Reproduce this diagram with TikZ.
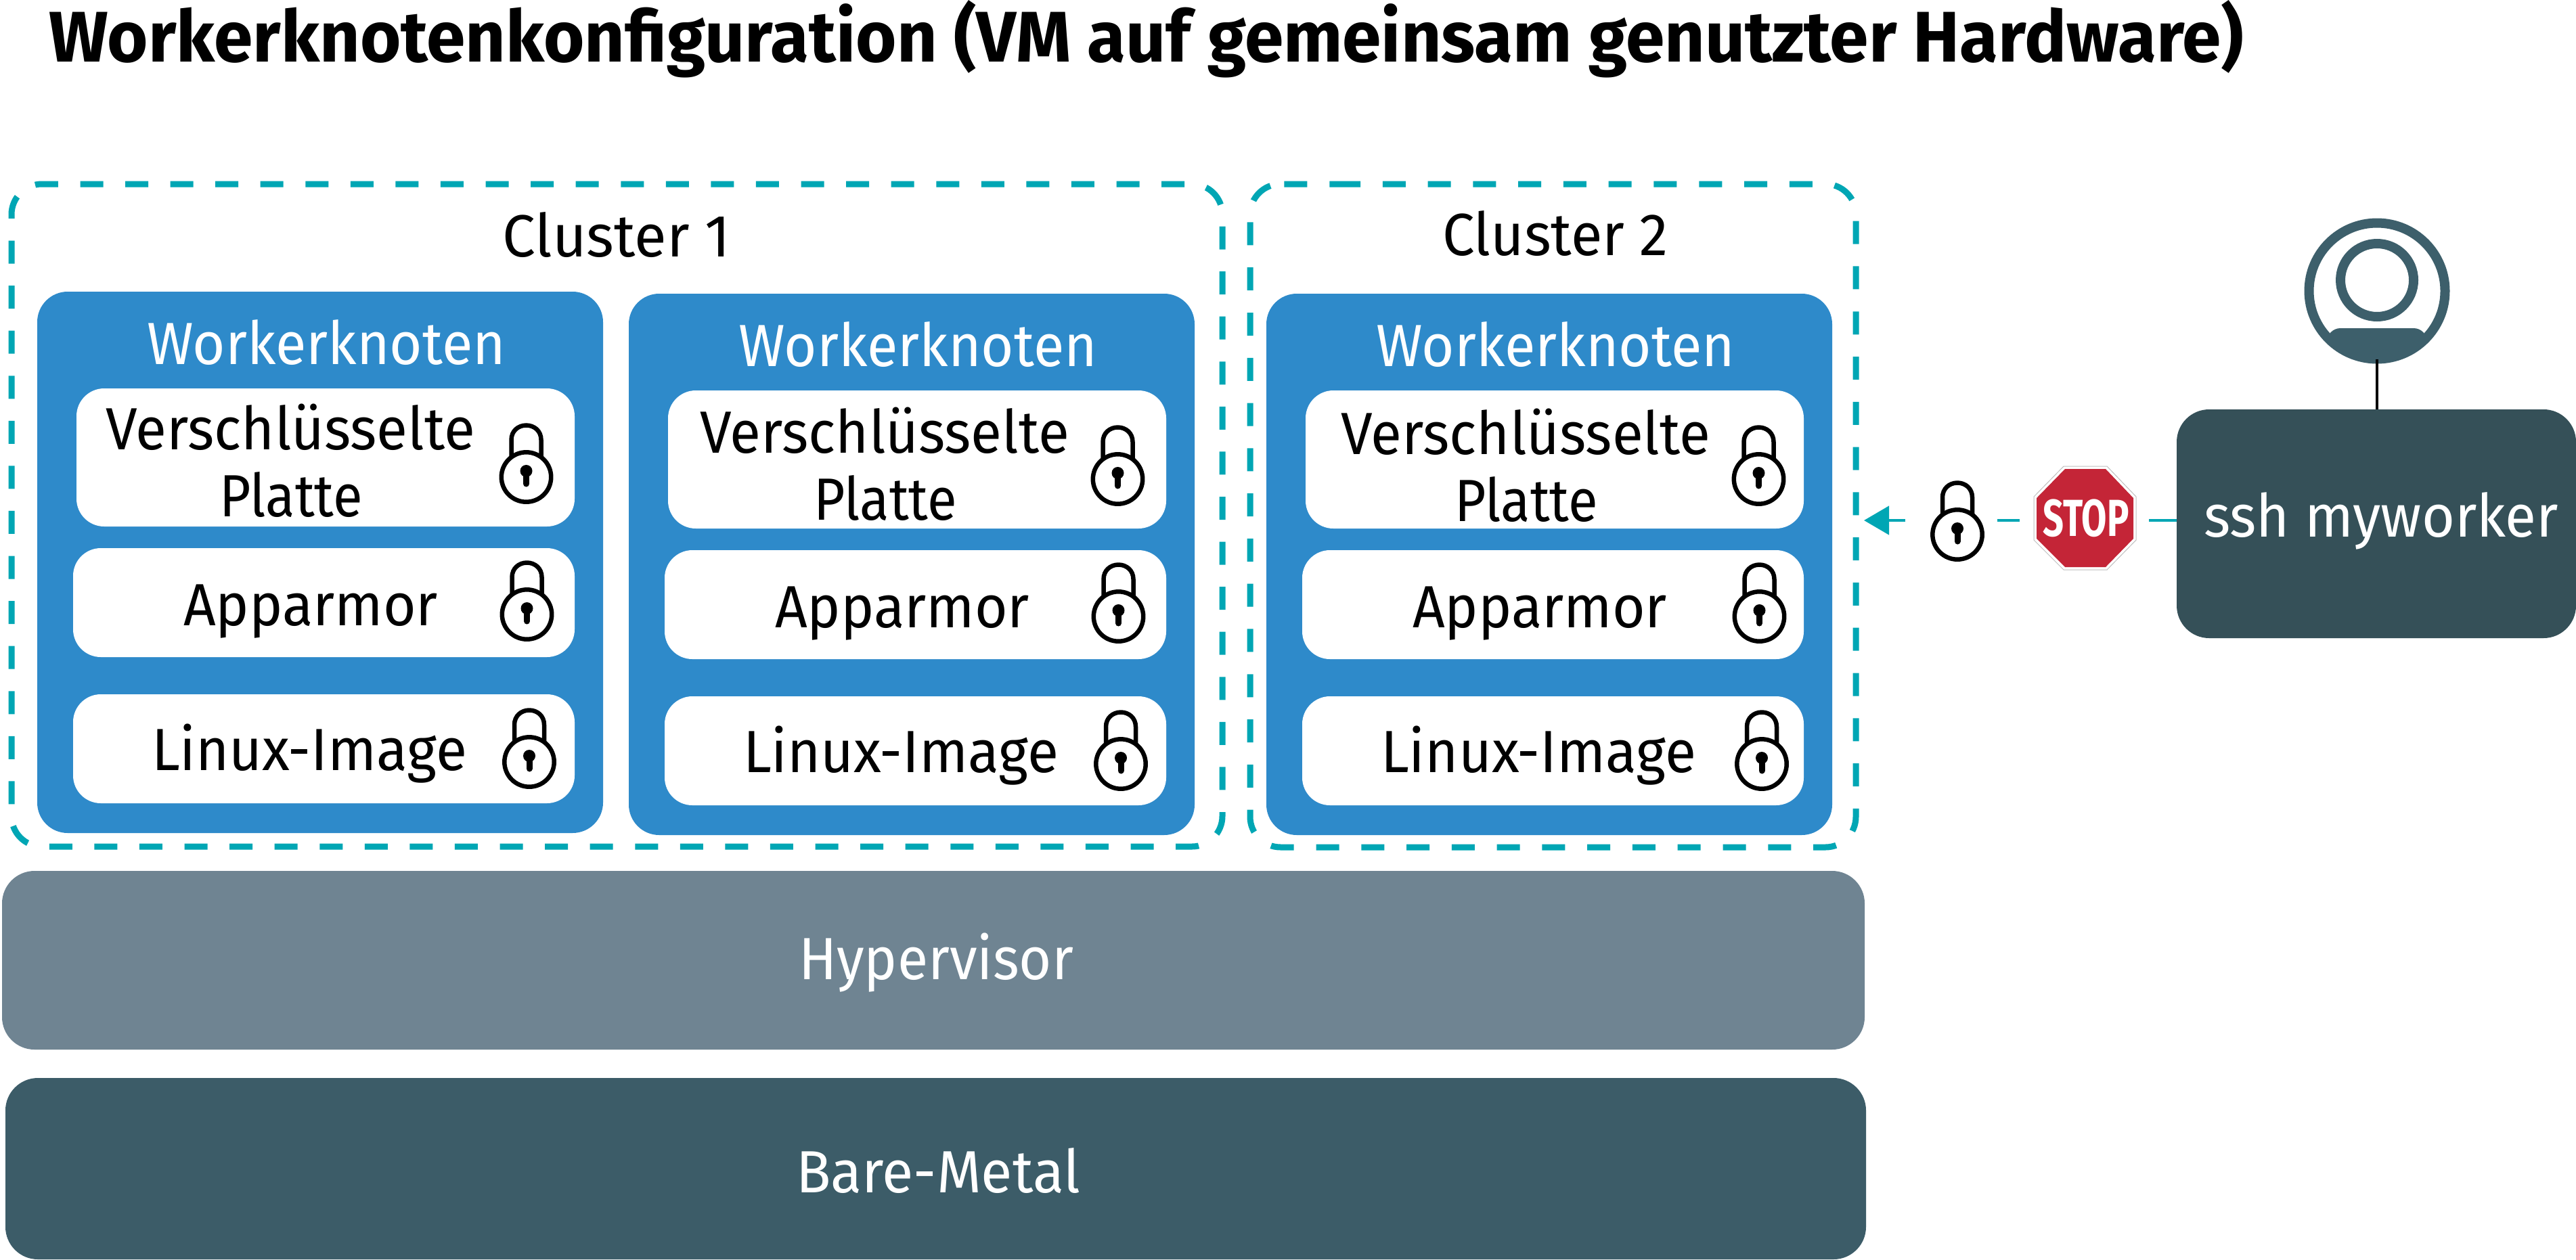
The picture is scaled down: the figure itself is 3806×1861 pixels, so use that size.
\documentclass[tikz,border=0pt]{standalone}
\usepackage{graphicx}
\usepackage{fontspec}
\setmainfont{Fira Sans}
\usetikzlibrary{arrows.meta,calc}
\definecolor{tealc}{HTML}{00A6B4}
\definecolor{workerc}{HTML}{2E8ACA}
\definecolor{hyperc}{HTML}{6F8492}
\definecolor{metalc}{HTML}{3C5C68}
\definecolor{sshc}{HTML}{355058}
\definecolor{personc}{HTML}{3D5F6B}
\definecolor{stopc}{HTML}{C42537}
\newsavebox\fitbox
\newcommand\fitw[2]{\sbox\fitbox{#2}\pgfmathsetmacro\fitr{#1/\wd\fitbox}\scalebox{\fitr}[1]{\usebox\fitbox}}
\tikzset{
  anybox/.style={rectangle,inner sep=0pt,outer sep=0pt},
  workerbox/.style={anybox,fill=workerc,rounded corners=45pt},
  rowbox/.style={anybox,fill=white,rounded corners=41pt},
  layerbox/.style={anybox,rounded corners=48pt},
  lbl/.style={anchor=base,inner sep=0pt,outer sep=0pt,font=\fontsize{88}{88}\selectfont},
  clusterline/.style={draw=tealc,line width=9pt,rounded corners=45pt},
  lockline/.style={draw=black,line width=6.5pt},
  lockicon/.pic={
    \draw[lockline] (-22,-10) -- (-22,-35) .. controls (-22,-48) and (-12,-56.5) .. (0,-56.5)
       .. controls (12,-56.5) and (22,-48) .. (22,-35) -- (22,-10);
    \draw[lockline,fill=white] (0,20) circle[radius=36.7pt];
    \fill (0,11) circle[radius=9pt];
    \draw[line width=9pt,line cap=round] (0,12) -- (0,30);
  }
}
\newcommand\workergroup[6]{%
 \begin{scope}[shift={(#2,#3)}]
  \node[workerbox,minimum width=836pt,minimum height=800pt] (#1box) at (473,831) {};
  \node[lbl,text=white] (#1title) at (482,538) {\fitw{530}{Workerknoten}};
  \node[rowbox,minimum width=736pt,minimum height=204pt] (#1disk) at (481,676) {};
  \node[rowbox,minimum width=741pt,minimum height=161pt] (#1app) at (478.5,890.5) {};
  \node[rowbox,minimum width=741pt,minimum height=161pt] (#1lin) at (478.5,1106.5) {};
  \node[lbl] (#1t1) at (429+#4,664+#6) {\fitw{546}{Verschlüsselte}};
  \node[lbl] (#1t2) at (430+#4,763+#6) {\fitw{212}{Platte}};
  \node[lbl] (#1t3) at (459,924) {\fitw{376}{Apparmor}};
  \node[lbl] (#1t4) at (457,1138) {\fitw{466}{Linux-Image}};
  \pic at (777.5+#5,685) {lockicon};
  \pic at (778.5+#5,888) {lockicon};
  \pic at (782+#5,1106) {lockicon};
 \end{scope}}
\begin{document}
\begin{tikzpicture}[x=1pt,y=-1pt]
\useasboundingbox (0,0) rectangle (3806,1861);
\fill[white] (0,0) rectangle (3806,1861);
\node[anchor=base west,inner sep=0pt,font=\fontsize{106}{106}\selectfont\bfseries] (title) at (72,91)
  {\fitw{3243}{Workerknotenkonfiguration (VM auf gemeinsam genutzter Hardware)}};
% clusters
\draw[clusterline,dash pattern=on 34pt off 32.57pt] (140,272) -- (1806,272) -- (1806,1251) -- (17,1251) -- (17,272) -- cycle;
\draw[clusterline,dash pattern=on 34pt off 32.78pt] (1931,272) -- (2742,272) -- (2742,1252) -- (1847,1252) -- (1847,272) -- cycle;
\node[lbl] (c1label) at (911,379) {\fitw{337}{Cluster 1}};
\node[lbl] (c2label) at (2298,377) {\fitw{334}{Cluster 2}};
\workergroup{a}{0}{0}{0}{0}{0}
\workergroup{b}{874}{3}{4}{0}{2}
\workergroup{c}{1816}{3}{9}{5}{4}
% layers
\node[layerbox,fill=hyperc,minimum width=2752pt,minimum height=264pt] (hyper) at (1379,1419) {};
\node[lbl,text=white] (hyperl) at (1383,1447) {\fitw{406}{Hypervisor}};
\node[layerbox,fill=metalc,minimum width=2749pt,minimum height=268pt] (metal) at (1382.5,1727) {};
\node[lbl,text=white] (metall) at (1386,1762) {\fitw{420}{Bare-Metal}};
% user
\node[layerbox,fill=sshc,minimum width=590pt,minimum height=338pt] (ssh) at (3511,774) {};
\node[lbl,text=white] (sshl) at (3518,793) {\fitw{524}{ssh myworker}};
\node[circle,draw=personc,line width=14pt,fill=white,inner sep=0pt,outer sep=0pt,minimum size=201pt] (person) at (3512,430) {};
\begin{scope}
  \clip (person.center) circle[radius=104pt];
  \fill[personc,rounded corners=20pt] (3438,485) rectangle (3586,560);
\end{scope}
\node[circle,draw=personc,line width=14pt,inner sep=0pt,minimum size=108pt] (head) at (3512,414) {};
\draw[black,line width=4pt] (person.south) -- (person.south |- ssh.north);
% connector
\coordinate (tipc) at (2754,769);
\draw[tealc,line width=4.5pt,dash pattern=on 41pt off 191pt on 33pt off 136pt on 200pt,
  -{Triangle[length=37pt,width=42pt]}] (ssh.west |- tipc) -- (tipc);
\pic at (2892,770) {lockicon};
% stop sign
\filldraw[fill=white,draw=black!25,line width=1pt] (3049,689) -- (3113,689) -- (3156,734) -- (3156,798) -- (3113,842) -- (3049,842) -- (3005,798) -- (3005,734) -- cycle;
\fill[stopc] (3051,693) -- (3111,693) -- (3152,736) -- (3152,796) -- (3111,838) -- (3051,838) -- (3009,796) -- (3009,736) -- cycle;
\node[anchor=base,inner sep=0pt,text=white,font=\fontsize{77}{77}\selectfont\bfseries] (stopl) at (3082,792) {\fitw{127}{STOP}};
\end{tikzpicture}
\end{document}
